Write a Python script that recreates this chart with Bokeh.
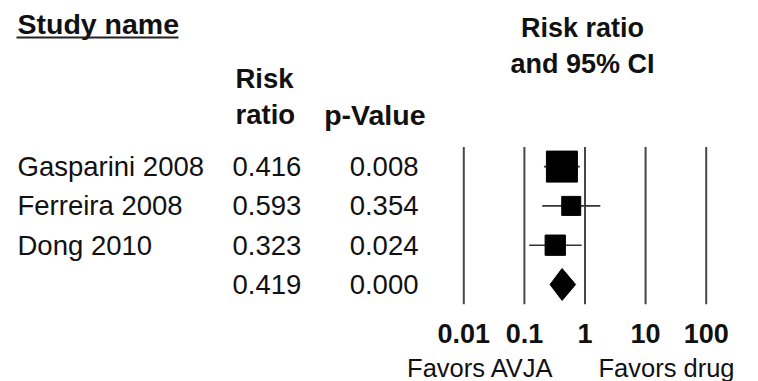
import math
from bokeh.plotting import figure
from bokeh.layouts import column
from bokeh.models import Range1d, LogScale, LogAxis, FixedTicker, ColumnDataSource
from bokeh.core.properties import value
from bokeh.embed import file_html
from bokeh.resources import INLINE

# ---------------- data ----------------
study_names = ["Gasparini 2008", "Ferreira 2008", "Dong 2010"]
risk_ratio = [0.416, 0.593, 0.323]
ci_lower = [0.21, 0.197, 0.12]
ci_upper = [0.82, 1.79, 0.88]
p_values = ["0.008", "0.354", "0.024"]
relative_weight = [55.4, 20.8, 23.8]
summary_rr = 0.419
summary_lower = 0.265
summary_upper = 0.70
summary_p = "0.000"
tick_values = [0.01, 0.1, 1, 10, 100]
tick_labels = ["0.01", "0.1", "1", "10", "100"]
favor_labels = ["Favors AVJA", "Favors drug"]

# ---------------- layout ----------------
W = 758
H_MAIN = 354
H_FOOT = 27
FRAME_H = 305
ONE_X = 584.5      # px of RR = 1
DECADE = 60.6      # px per decade
ROW_PX = 39.3      # px per row
Y_TOP = 1 + 284 / ROW_PX
Y_BOT = Y_TOP - FRAME_H / ROW_PX
FONT = value("Liberation Sans")
TXT = "#111111"

def y_at(py):
    return Y_TOP - py / ROW_PX

p = figure(width=W, height=H_MAIN, x_range=Range1d(0, W), y_range=Range1d(Y_BOT, Y_TOP),
           x_axis_type=None, y_axis_type=None, output_backend="svg",
           toolbar_location=None, min_border=0, min_border_left=0, min_border_right=0,
           min_border_top=0, min_border_bottom=H_MAIN - FRAME_H, outline_line_color=None,
           background_fill_color="white", border_fill_color="white")
p.xgrid.visible = False
p.ygrid.visible = False

p.extra_x_ranges = {"log": Range1d(10 ** (-ONE_X / DECADE), 10 ** ((W - ONE_X) / DECADE))}
p.extra_x_scales = {"log": LogScale()}

axis = LogAxis(x_range_name="log", ticker=FixedTicker(ticks=tick_values),
               major_label_overrides=dict(zip(tick_values, tick_labels)),
               axis_line_color=None, major_tick_line_color=None, minor_tick_line_color=None,
               major_tick_out=0, major_tick_in=0,
               major_label_standoff=18, major_label_text_font_size="27px",
               major_label_text_font_style="bold", major_label_text_font="Liberation Sans",
               major_label_text_color=TXT)
p.add_layout(axis, "below")

rows = [4, 3, 2]
study_src = ColumnDataSource(dict(
    name=study_names, rr=risk_ratio, lo=ci_lower, hi=ci_upper, row=rows,
    size=[4.165 * math.sqrt(w) for w in relative_weight],
))
table_src = ColumnDataSource(dict(
    row=rows + [1],
    rr_txt=[f"{v:.3f}" for v in risk_ratio] + [f"{summary_rr:.3f}"],
    p=p_values + [summary_p],
))

# reference lines at each decade
p.segment(x0=tick_values, y0=[0.5] * len(tick_values), x1=tick_values, y1=[4.5] * len(tick_values),
          x_range_name="log", line_color="#474747", line_width=2)
# confidence intervals
p.segment(x0="lo", y0="row", x1="hi", y1="row", source=study_src, x_range_name="log",
          line_color="#333333", line_width=1.6)
# point estimates
p.scatter(x="rr", y="row", size="size", marker="square", source=study_src, x_range_name="log",
          fill_color="black", line_color="black")
# summary diamond
h = 0.407
p.patch(x=[summary_lower, summary_rr, summary_upper, summary_rr], y=[1, 1 + h, 1, 1 - h],
        x_range_name="log", fill_color="black", line_color="black")

# table text
p.text(x=17, y="row", text="name", source=study_src, text_font=FONT, text_font_size="27.5px",
       text_baseline="middle", text_align="left", text_color=TXT)
p.text(x=232, y="row", text="rr_txt", source=table_src, text_font=FONT, text_font_size="27.5px",
       text_baseline="middle", text_align="left", text_color=TXT)
p.text(x=418, y="row", text="p", source=table_src, text_font=FONT, text_font_size="27.5px",
       text_baseline="middle", text_align="right", text_color=TXT)

# headers
p.text(x=[17], y=[y_at(23)], text=["Study name"], text_font=FONT, text_font_size="28.5px",
       text_font_style="bold", text_baseline="middle", text_align="left", text_color=TXT)
p.segment(x0=[16], y0=[y_at(37)], x1=[178], y1=[y_at(37)], line_color="#222222", line_width=2)
p.text(x=[582, 582], y=[y_at(27), y_at(63)], text=["Risk ratio", "and 95% CI"], text_font=FONT,
       text_font_size="27px", text_font_style="bold", text_baseline="middle",
       text_align="center", text_color=TXT)
p.text(x=[235, 235], y=[y_at(78), y_at(114)], text=["Risk", "ratio"], text_font=FONT,
       text_font_size="27.5px", text_font_style="bold", text_baseline="middle",
       text_align="left", text_color=TXT)
p.text(x=[425], y=[y_at(114)], text=["p-Value"], text_font=FONT,
       text_font_size="28.5px", text_font_style="bold", text_baseline="middle",
       text_align="right", text_color=TXT)

# footer with favours labels
f = figure(width=W, height=H_FOOT, x_range=Range1d(0, W), y_range=Range1d(0, H_FOOT),
           x_axis_type=None, y_axis_type=None, output_backend="svg", toolbar_location=None,
           min_border=0, outline_line_color=None,
           background_fill_color="white", border_fill_color="white")
f.xgrid.visible = False
f.ygrid.visible = False
f.text(x=[480, 666], y=[H_FOOT - 13, H_FOOT - 13], text=favor_labels, text_font=FONT,
       text_font_size="25.5px", text_baseline="middle", text_align="center", text_color=TXT)

layout = column(p, f, spacing=0)
open("out.html", "w").write(file_html(layout, INLINE))
